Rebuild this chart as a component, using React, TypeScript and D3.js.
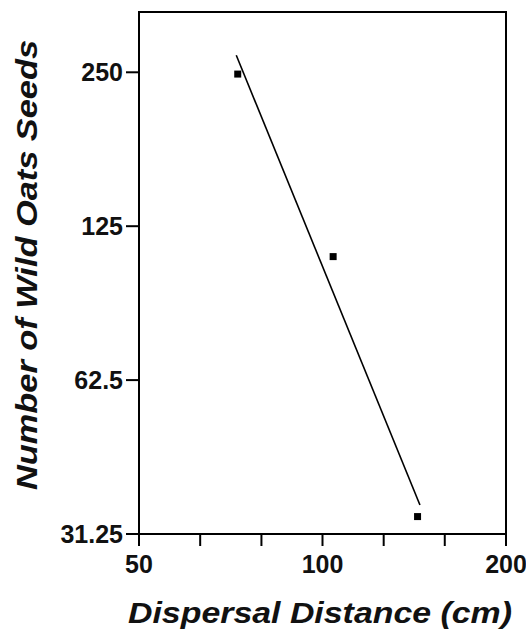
import React from "react";
import * as d3 from "d3";

const distances = [72.6, 104.1, 143.2];
const seeds = [248, 109, 33.8];
const fitX = [72.2, 144.5];
const fitY = [270, 35.6];
const xTickLabels = [50, 100, 200];
const xMinorTicks = [50, 63, 79.4, 100, 126, 158.7, 200];
const yTickValues = [31.25, 62.5, 125, 250];
const yTickLabels = ["31.25", "62.5", "125", "250"];

const W = 526;
const H = 630;
const left = 139;
const right = 506;
const top = 12;
const bottom = 534;
const font = "'Liberation Sans', Arial, Helvetica, sans-serif";

export default function App() {
  const x = d3.scaleLog().base(2).domain([50, 200]).range([left, right]);
  const y = d3.scaleLog().base(2).domain([31.25, 328]).range([bottom, top]);
  const line = d3
    .line<number>()
    .x((_, i) => x(fitX[i]))
    .y((d) => y(d));

  return (
    <svg
      width={W}
      height={H}
      style={{ position: "absolute", left: 0, top: 0, display: "block", background: "#fff" }}
    >
      <rect
        x={left}
        y={top}
        width={right - left}
        height={bottom - top}
        fill="none"
        stroke="#000"
        strokeWidth={2}
      />
      {xMinorTicks.map((t) => (
        <line key={"xt" + t} x1={x(t)} x2={x(t)} y1={bottom} y2={bottom + 12} stroke="#000" strokeWidth={2} />
      ))}
      {xTickLabels.map((t) => (
        <text
          key={"xl" + t}
          x={x(t)}
          y={573}
          textAnchor="middle"
          fontFamily={font}
          fontWeight="bold"
          fontSize={25}
          fill="#111"
        >
          {t}
        </text>
      ))}
      {yTickValues.map((t, i) => (
        <g key={"yt" + t}>
          <line x1={left - 13} x2={left} y1={y(t)} y2={y(t)} stroke="#000" strokeWidth={2} />
          <text
            x={123}
            y={y(t)}
            dy="0.36em"
            textAnchor="end"
            fontFamily={font}
            fontWeight="bold"
            fontSize={25}
            fill="#111"
          >
            {yTickLabels[i]}
          </text>
        </g>
      ))}
      <path d={line(fitY) || ""} fill="none" stroke="#000" strokeWidth={1.6} />
      {distances.map((d, i) => (
        <rect key={"p" + i} x={x(d) - 3.5} y={y(seeds[i]) - 3.5} width={7} height={7} fill="#000" />
      ))}
      <text
        x={128}
        y={623}
        textLength={384}
        lengthAdjust="spacingAndGlyphs"
        fontFamily={font}
        fontWeight="bold"
        fontStyle="italic"
        fontSize={29}
        fill="#111"
      >
        Dispersal Distance (cm)
      </text>
      <text
        transform={`translate(37, 490) rotate(-90)`}
        textLength={450}
        lengthAdjust="spacingAndGlyphs"
        fontFamily={font}
        fontWeight="bold"
        fontStyle="italic"
        fontSize={29}
        fill="#111"
      >
        Number of Wild Oats Seeds
      </text>
    </svg>
  );
}
